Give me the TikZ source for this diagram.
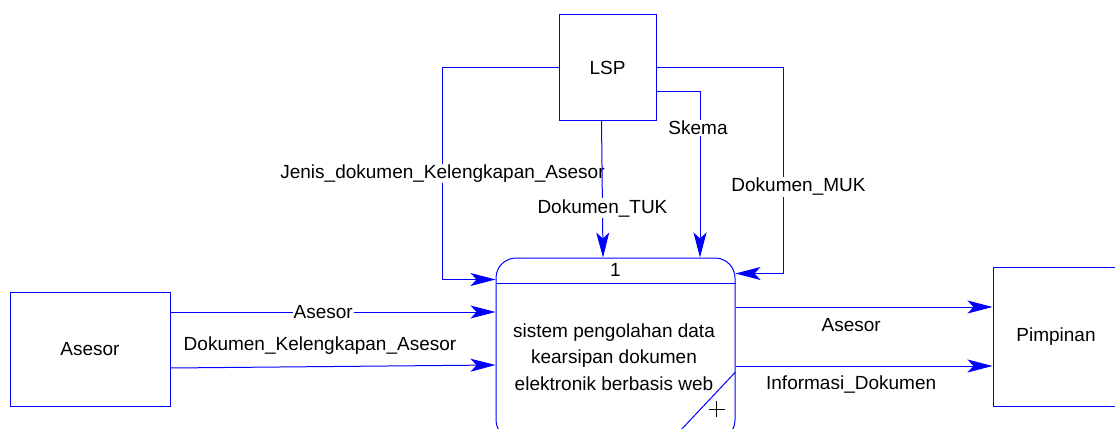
\documentclass[tikz,border=0pt]{standalone}
\usepackage{fontspec}
\setmainfont{Liberation Sans}
\usetikzlibrary{arrows.meta,positioning}

\begin{document}
\begin{tikzpicture}[x=1pt,y=-1pt,
	font=\fontsize{19}{26.5}\selectfont,
	entity/.style={draw=blue,line width=1pt,shape=rectangle,inner sep=0pt},
	flow/.style={draw=blue,line width=1pt,-{Stealth[length=25pt,width=13pt,inset=6pt]}},
	lbl/.style={fill=white,inner sep=1pt}]
	\useasboundingbox (0,0) rectangle (1115,428);
	\clip (0,0) rectangle (1115,428);

	\node[entity,minimum width=97pt,minimum height=105pt] (lsp) at (607.5,67.5) {LSP};
	\node[entity,minimum width=160pt,minimum height=114pt] (asesor) at (90,349) {Asesor};
	\node[entity,minimum width=140pt,minimum height=139pt] (pimpinan) at (1063,336.5) {\hspace*{-14pt}Pimpinan};
	\node[entity,rounded corners=20pt,minimum width=239pt,minimum height=182pt] (proc) at (615.5,349) {};
	\node (procid) at ([yshift=-12pt]proc.north) {1};
	\node[align=center] (procname) at (614,357) {sistem pengolahan data\\kearsipan dokumen\\elektronik berbasis web};

	\draw[blue,line width=1pt] ([yshift=-26pt]proc.north west) -- ([yshift=-26pt]proc.north east);
	\draw[blue,line width=1pt] ([yshift=-23pt]proc.east) -- ++(-65,69);
	\draw[line width=0.8pt] ([xshift=-27pt,yshift=-60pt]proc.east) -- ++(16,0);
	\draw[line width=0.8pt] ([xshift=-19pt,yshift=-52pt]proc.east) -- ++(0,16);

	\draw[flow] (lsp.west) -- ++(-116,0) |- ([yshift=-22pt]proc.north west)
		node[lbl,pos=0.25] {Jenis\_dokumen\_Kelengkapan\_Asesor};
	\draw[flow] ([xshift=-6pt]lsp.south) -- ([xshift=-12.5pt]proc.north)
		node[lbl,pos=0.64] {Dokumen\_TUK};
	\draw[flow] ([yshift=-23.5pt]lsp.east) -| ([xshift=84.5pt]proc.north)
		node[lbl,pos=0.61,xshift=-2pt] {Skema};
	\draw[flow] (lsp.east) -- ++(127,0) |- ([yshift=-16pt]proc.north east)
		node[lbl,pos=0.29,xshift=15pt] {Dokumen\_MUK};

	\draw[flow] ([yshift=37pt]asesor.east) -- ([yshift=37pt]proc.west)
		node[lbl,pos=0.47] {Asesor};
	\draw[flow] ([yshift=-19pt]asesor.east) -- ([yshift=-16pt]proc.west)
		node[pos=0.46,yshift=21pt] {Dokumen\_Kelengkapan\_Asesor};

	\draw[flow] ([yshift=42pt]proc.east) -- ([yshift=42pt]proc.east -| pimpinan.west)
		node[pos=0.45,yshift=-18pt] {Asesor};
	\draw[flow] ([yshift=-17pt]proc.east) -- ([yshift=-17pt]proc.east -| pimpinan.west)
		node[pos=0.45,yshift=-18pt] {Informasi\_Dokumen};
\end{tikzpicture}
\end{document}
